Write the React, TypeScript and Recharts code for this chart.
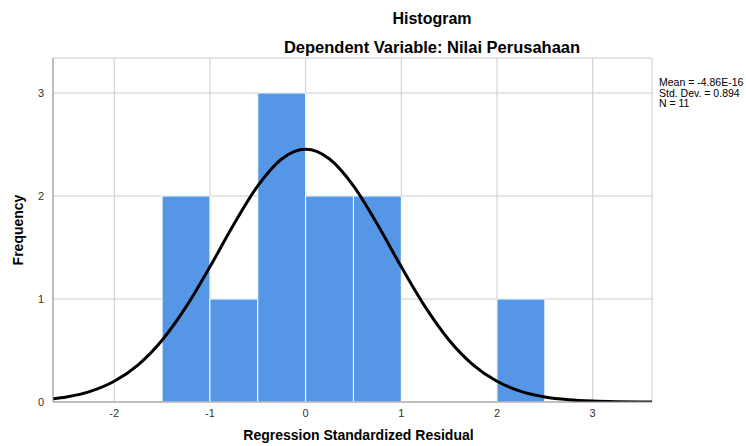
import React from 'react'
import {
  ComposedChart,
  Line,
  XAxis,
  YAxis,
  CartesianGrid,
  ReferenceArea,
} from 'recharts'

// histogram bins (start of bin, width 0.5) and their frequencies
const binStarts = [-1.5, -1, -0.5, 0, 0.5, 2]
const binCounts = [2, 1, 3, 2, 2, 1]
const binWidth = 0.5

// normal curve
const curveX = [-2.64, -2.5, -2.25, -2, -1.75, -1.5, -1.25, -1, -0.75, -0.5, -0.25, 0, 0.25, 0.5, 0.75, 1, 1.25, 1.5, 1.75, 2, 2.25, 2.5, 2.75, 3, 3.25, 3.5, 3.62]
const curveY = [0.031, 0.049, 0.103, 0.201, 0.361, 0.6, 0.923, 1.312, 1.726, 2.099, 2.36, 2.454, 2.36, 2.099, 1.726, 1.312, 0.923, 0.6, 0.361, 0.201, 0.103, 0.049, 0.022, 0.009, 0.003, 0.001, 0.001]

const xTicks = [-2, -1, 0, 1, 2, 3]
const yTicks = [0, 1, 2, 3]

const stats = ['Mean = -4.86E-16', 'Std. Dev. = 0.894', 'N = 11']

const curveData = curveX.map((x, i) => ({ x, y: curveY[i] }))

const FONT = '"Liberation Sans", Arial, sans-serif'

export default function App() {
  return (
    <div style={{ position: 'absolute', left: 0, top: 0, width: 746, height: 446, background: '#fff', fontFamily: FONT, overflow: 'hidden' }}>
      <div style={{ position: 'absolute', left: 332, width: 200, top: 10, textAlign: 'center', fontWeight: 'bold', fontSize: 16, color: '#000' }}>
        Histogram
      </div>
      <div style={{ position: 'absolute', left: 232, width: 400, top: 38, textAlign: 'center', fontWeight: 'bold', fontSize: 16.5, color: '#000' }}>
        Dependent Variable: Nilai Perusahaan
      </div>
      <div style={{ position: 'absolute', left: 659, top: 77, fontSize: 10.5, lineHeight: '10.5px', color: '#000', whiteSpace: 'nowrap' }}>
        {stats.map((s) => (
          <div key={s}>{s}</div>
        ))}
      </div>

      <ComposedChart
        width={746}
        height={446}
        data={curveData}
        margin={{ top: 58, right: 94, bottom: 0, left: 0 }}
      >
        <CartesianGrid stroke="#cccccc" strokeWidth={1} />
        <XAxis
          dataKey="x"
          type="number"
          domain={[-2.64, 3.62]}
          ticks={xTicks}
          allowDataOverflow
          height={44}
          tickSize={0}
          tickMargin={7}
          axisLine={{ stroke: '#999' }}
          tick={{ fontSize: 11, fill: '#333', fontFamily: FONT }}
          label={{ value: 'Regression Standardized Residual', position: 'insideBottom', offset: 6, dx: 6, style: { fontSize: 14, fontWeight: 'bold', fill: '#000', fontFamily: FONT } }}
        />
        <YAxis
          type="number"
          domain={[0, 3.34]}
          ticks={yTicks}
          allowDataOverflow
          width={53}
          tickSize={0}
          tickMargin={9}
          axisLine={{ stroke: '#999' }}
          tick={{ fontSize: 11, fill: '#333', fontFamily: FONT }}
          label={{ value: 'Frequency', angle: -90, position: 'insideLeft', offset: 18, style: { fontSize: 14, fontWeight: 'bold', fill: '#000', fontFamily: FONT, textAnchor: 'middle' } }}
        />
        {binStarts.map((start, i) => (
          <ReferenceArea
            key={start}
            x1={start}
            x2={start + binWidth}
            y1={0}
            y2={binCounts[i]}
            fill="#5596e6"
            fillOpacity={1}
            stroke="#ffffff"
            strokeWidth={1}
          />
        ))}
        <Line
          dataKey="y"
          type="monotone"
          stroke="#000"
          strokeWidth={3}
          dot={false}
          isAnimationActive={false}
        />
      </ComposedChart>
    </div>
  )
}
